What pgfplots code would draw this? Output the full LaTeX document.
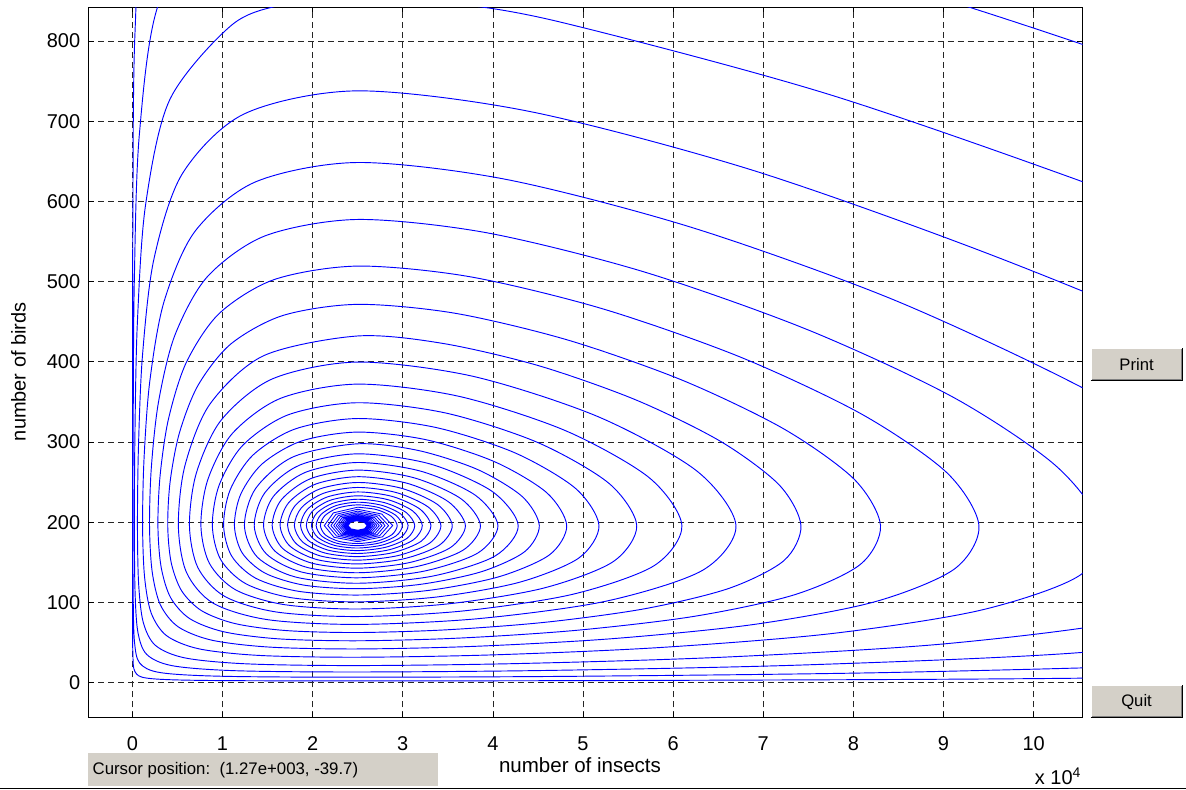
\documentclass[border=0pt]{standalone}
\usepackage{pgfplots}
\pgfplotsset{compat=1.18}
\usepackage{fontspec}
\setmainfont{Liberation Sans}
\definecolor{btngray}{RGB}{212,208,200}
\definecolor{btndark}{RGB}{128,128,128}

\begin{document}
\begin{tikzpicture}
\begin{scope}[x=0.75pt, y=-0.75pt, xshift=-66pt, yshift=538.5pt]
  \useasboundingbox (0,0) rectangle (1186,790);
\end{scope}
\begin{axis}[
  at={(0,0)}, anchor=south west,
  scale only axis, width=746.25pt, height=533.25pt,
  xmin=-0.488, xmax=10.543, ymin=-43.1, ymax=842.3,
  xtick={0,1,...,10}, ytick={0,100,...,800},
  grid=major,
  major grid style={black!85, dash pattern=on 4.5pt off 3pt, line width=0.6pt},
  tick align=inside, major tick length=4pt,
  axis line style={line width=0.75pt},
  tick style={black, line width=0.6pt},
  /pgf/number format/assume math mode=true,
  ticklabel style={font=\fontsize{15}{18}\selectfont},
  xticklabel style={inner sep=0pt, anchor=north, yshift=-14pt},
  yticklabel style={inner sep=0pt, anchor=east, xshift=-6pt},
  clip=true,
]
% outer and middle turns of the trajectory (x in units of 10^4 insects, y in birds)
\addplot[blue, line width=0.7pt, line join=round, smooth] coordinates {
(2.5,1223) (0.789,1170) (0.171,1021) (0.028,808.2) (0.005,573.9) (0.001,360) (0.001,196) (0.001,91.5) (0.005,37.1) (0.028,14) (0.171,5.7) (0.789,3) (2.5,2.4) (5.758,3) (10.448,5.7) (15.58,14.7) (19.89,39.8) (22.5,95.9) (22.92,196) (21.12,341.3) (17.61,516.5) (13.19,693.5) (8.907,855.3) (5.184,967.1)
(2.5,1005.6) (0.959,962.3) (0.291,846.3) (0.076,681.8) (0.021,499.6) (0.009,330.5) (0.006,196) (0.009,104.5) (0.023,51.2) (0.081,24.6) (0.306,12.8) (0.983,8.2) (2.5,7) (5.084,8.3) (8.591,13.3) (12.384,26.1) (15.62,54.6) (17.68,108.6) (18.14,196) (16.95,316.5) (14.41,458.8) (11.09,602.2) (7.754,732.5) (4.76,823.2) (3.522,847.4)
(2.5,855.6) (1.699,845.8) (1.106,820.2) (0.417,727.4) (0.146,595.6) (0.055,448.6) (0.028,309.7) (0.022,196) (0.029,114.7) (0.06,63.7) (0.158,35.5) (0.444,21.3) (1.14,15.1) (2.5,13.5) (4.643,15.5) (7.43,22.2) (10.444,37.1) (12.97,67.2) (14.58,118.5) (14.94,196) (14.03,297.9) (12.07,414.8) (9.533,533.2) (6.872,639.2) (4.417,711.9)
(2.5,737.8) (1.243,709.2) (0.555,634.7) (0.239,528.3) (0.112,408.3) (0.067,293) (0.056,196) (0.069,123.6) (0.12,75.5) (0.256,46.6) (0.585,31) (1.278,23.6) (2.5,21.5) (4.312,24.1) (6.584,32.1) (9.004,48.5) (11.087,78.4) (12.35,126.9) (12.62,196) (11.87,283.2) (10.317,380.6) (8.37,480.9) (6.193,568) (4.148,627.4)
(2.5,648.5) (1.365,624.3) (0.695,562.8) (0.351,475.1) (0.193,375.8) (0.129,279.2) (0.113,196) (0.135,131.9) (0.208,87.1) (0.38,58.7) (0.741,42.3) (1.413,34.1) (2.5,31.9) (4.019,34.9) (5.854,44) (7.759,61.4) (9.416,90.6) (10.523,134.8) (10.739,196) (10.238,271.3) (9.106,356) (7.483,440.5) (5.661,512.7) (3.928,561)
(2.5,577.5) (1.475,557.2) (0.832,506.2) (0.472,433.4) (0.29,350.3) (0.21,268.2) (0.19,196) (0.219,138.7) (0.31,97.3) (0.508,69.8) (0.883,53.1) (1.525,44.5) (2.5,42.2) (3.804,45.5) (5.334,55.1) (6.893,72.7) (8.231,100.8) (9.119,141.7) (9.393,196) (9.035,262.1) (8.093,334.8) (6.741,406.2) (5.213,466.3) (3.741,506.2)
(2.5,519.4) (1.576,502.7) (0.964,460.4) (0.599,399.5) (0.401,329.2) (0.308,259) (0.283,196) (0.318,144.7) (0.423,106.4) (0.636,80) (1.014,63.6) (1.622,54.8) (2.5,52.4) (3.635,55.8) (4.933,65.5) (6.236,82.9) (7.345,109.7) (8.075,147.4) (8.301,196) (8.009,253.7) (7.232,316.2) (6.111,376.7) (4.832,427.2) (3.58,460.6)
(2.5,471.7) (1.669,457.8) (1.093,422.4) (0.73,371.1) (0.522,311.6) (0.419,251.1) (0.392,196) (0.43,150.1) (0.545,114.9) (0.767,89.9) (1.14,73.8) (1.709,65.1) (2.5,62.7) (3.49,66.1) (4.6,75.7) (5.698,92.6) (6.624,117.9) (7.23,152.4) (7.418,196) (7.176,246.7) (6.531,300.6) (5.595,352.2) (4.515,395) (3.445,423)
(2.5,432.3) (1.458,407.8) (0.861,347.5) (0.582,270.3) (0.51,196) (0.6,137.6) (0.897,99.2) (1.501,78.7) (2.5,72.8) (3.84,80) (5.253,101.7) (6.326,140.2) (6.697,196) (6.263,264) (5.167,331.7) (3.783,381.9)
(2.5,399.8) (1.557,379) (0.987,327.7) (0.709,261.2) (0.633,196) (0.727,143.5) (1.023,107.8) (1.596,88.3) (2.5,82.6) (3.672,89.6) (4.88,110.2) (5.786,145.8) (6.097,196) (5.733,255.8) (4.807,314.2) (3.622,357.1)
(2.5,372.3) (1.647,354.7) (1.11,310.9) (0.837,253.3) (0.76,196) (0.855,148.8) (1.145,115.9) (1.683,97.5) (2.5,92) (3.527,98.7) (4.564,118.1) (5.333,150.9) (5.596,196) (5.288,248.6) (4.502,299.3) (3.484,336.1)
(2.5,349.1) (1.73,334.1) (1.228,296.4) (0.963,246.5) (0.887,196) (0.98,153.5) (1.26,123.4) (1.763,106.1) (2.5,100.9) (3.403,107.3) (4.297,125.4) (4.953,155.5) (5.177,196) (4.916,242.4) (4.245,286.6) (3.365,318.3)
(2.5,329.4) (1.806,316.4) (1.339,284) (1.085,240.6) (1.012,196) (1.102,157.9) (1.369,130.3) (1.836,114.2) (2.5,109.4) (3.294,115.3) (4.067,132.2) (4.629,159.6) (4.819,196) (4.597,237) (4.022,275.4) (3.262,302.9)
(2.5,312.5) (1.875,301.3) (1.443,273.2) (1.203,235.4) (1.132,196) (1.219,161.8) (1.472,136.7) (1.902,121.8) (2.5,117.3) (3.2,122.8) (3.87,138.4) (4.352,163.4) (4.515,196) (4.325,232.2) (3.831,265.8) (3.171,289.6)
(2.5,297.9) (1.785,281.7) (1.369,242.5) (1.243,196) (1.387,156.6) (1.809,131.9) (2.5,124.1) (3.331,133) (4.023,158) (4.281,196) (3.989,238.8) (3.296,273)
(2.5,285.4) (1.855,271.3) (1.471,237.1) (1.352,196) (1.487,160.6) (1.877,138.1) (2.5,130.9) (3.232,139.1) (3.833,161.8) (4.056,196) (3.804,233.9) (3.202,263.7)
(2.5,274.6) (1.919,262.3) (1.565,232.4) (1.455,196) (1.581,164.2) (1.94,143.8) (2.5,137.2) (3.146,144.7) (3.67,165.4) (3.862,196) (3.645,229.5) (3.12,255.7)
(2.5,265.1) (1.978,254.5) (1.653,228.2) (1.551,196) (1.667,167.5) (1.996,149) (2.5,142.9) (3.071,149.8) (3.528,168.5) (3.695,196) (3.506,225.7) (3.048,248.7)
(2.5,256.9) (2.031,247.6) (1.734,224.5) (1.639,196) (1.747,170.5) (2.047,153.6) (2.5,148.2) (3.005,154.4) (3.404,171.4) (3.549,196) (3.385,222.3) (2.985,242.5)
(2.5,249.7) (2.079,241.6) (1.809,221.3) (1.722,196) (1.821,173.1) (2.094,157.9) (2.5,152.9) (2.947,158.6) (3.297,174) (3.423,196) (3.28,219.3) (2.929,237.1)
(2.5,243.5) (2.122,236.3) (1.877,218.4) (1.797,196) (1.888,175.6) (2.136,161.8) (2.5,157.3) (2.896,162.4) (3.202,176.3) (3.313,196) (3.188,216.7) (2.88,232.4)
(2.5,237.9) (2.161,231.6) (1.939,215.9) (1.866,196) (1.949,177.7) (2.174,165.3) (2.5,161.2) (2.851,165.9) (3.12,178.4) (3.217,196) (3.108,214.4) (2.837,228.2)
(2.5,233.1) (2.197,227.6) (1.996,213.7) (1.93,196) (2.005,179.7) (2.208,168.5) (2.5,164.8) (2.811,169) (3.048,180.2) (3.133,196) (3.037,212.3) (2.799,224.5)
(2.5,228.8) (2.229,224) (2.047,211.7) (1.987,196) (2.055,181.4) (2.239,171.4) (2.5,168) (2.776,171.8) (2.985,181.9) (3.059,196) (2.976,210.5) (2.765,221.3)
(2.5,225.1) (2.257,220.8) (2.094,209.9) (2.039,196) (2.101,182.9) (2.266,174) (2.5,171) (2.745,174.4) (2.929,183.4) (2.995,196) (2.921,208.9) (2.735,218.4)
(2.5,221.8) (2.283,218) (2.136,208.4) (2.086,196) (2.142,184.3) (2.291,176.3) (2.5,173.6) (2.717,176.7) (2.88,184.7) (2.938,196) (2.873,207.5) (2.709,215.9)
(2.5,218.9)
};
% innermost turns, drawn as polygons like the solver output
\addplot[blue, line width=0.65pt, line join=round] coordinates {
(2.5,218.9) (2.23,211.8) (2.129,196) (2.237,181.4) (2.5,175.9) (2.774,181.9) (2.888,196) (2.766,210.4)
(2.5,216.3) (2.258,210) (2.168,196) (2.265,183) (2.5,178) (2.743,183.4) (2.843,196) (2.736,208.8)
(2.5,214) (2.284,208.4) (2.202,196) (2.29,184.4) (2.5,179.9) (2.716,184.7) (2.804,196) (2.71,207.4)
(2.5,212) (2.307,207.1) (2.234,196) (2.312,185.6) (2.5,181.7) (2.692,185.9) (2.77,196) (2.686,206.1)
(2.5,210.2) (2.327,205.8) (2.262,196) (2.332,186.7) (2.5,183.2) (2.671,187) (2.74,196) (2.666,205)
(2.5,208.6) (2.346,204.8) (2.287,196) (2.35,187.7) (2.5,184.6) (2.652,188) (2.713,196) (2.647,204)
(2.5,207.2) (2.362,203.8) (2.31,196) (2.366,188.6) (2.5,185.8) (2.635,188.8) (2.689,196) (2.631,203.1)
(2.5,206) (2.377,202.9) (2.33,196) (2.381,189.4) (2.5,186.9) (2.62,189.6) (2.668,196) (2.616,202.3)
(2.5,204.9) (2.39,202.2) (2.348,196) (2.393,190.1) (2.5,187.9) (2.607,190.3) (2.649,196) (2.603,201.6)
(2.5,203.9) (2.402,201.5) (2.364,196) (2.405,190.8) (2.5,188.7) (2.595,190.9) (2.633,196) (2.592,201)
(2.5,203) (2.413,200.9) (2.379,196) (2.415,191.3) (2.5,189.5) (2.584,191.5) (2.618,196) (2.582,200.5)
(2.5,202.3) (2.422,200.3) (2.392,196) (2.425,191.9) (2.5,190.2) (2.575,192) (2.605,196) (2.573,200)
(2.5,201.6)
};
\end{axis}
\begin{scope}[x=0.75pt, y=-0.75pt, xshift=-66pt, yshift=538.5pt]
  \node[anchor=base, font=\fontsize{15.4}{18}\selectfont, inner sep=0pt] at (580,773) {number of insects};
  \node[rotate=90, font=\fontsize{15}{18}\selectfont, inner sep=0pt] at (18,372) {number of birds};
  \node[anchor=base west, font=\fontsize{15}{18}\selectfont, inner sep=0pt] at (1035,785) {x 10\textsuperscript{4}};
  \fill[btngray] (88,754) rectangle (438,787);
  \node[anchor=west, font=\fontsize{12.6}{14}\selectfont, inner sep=0pt] at (92,771) {Cursor position:\ \ (1.27e+003, -39.7)};
  \draw[black, line width=0.75pt] (0,789) -- (1186,789);
  \foreach \ya/\yb/\txt in {348/381/Print, 686/719/Quit} {
    \fill[btngray] (1091,\ya) rectangle (1183,\yb);
    \draw[white, line width=0.75pt] (1091.5,\yb-1) -- (1091.5,\ya+0.5) -- (1182,\ya+0.5);
    \draw[black, line width=0.75pt] (1091,\yb-0.5) -- (1182.5,\yb-0.5) -- (1182.5,\ya);
    \draw[btndark, line width=0.75pt] (1092.5,\yb-1.5) -- (1181.5,\yb-1.5) -- (1181.5,\ya+1);
    \node[font=\fontsize{12.5}{14}\selectfont, inner sep=0pt] at (1137,{(\ya+\yb)/2}) {\txt};
  }
\end{scope}
\end{tikzpicture}
\end{document}
